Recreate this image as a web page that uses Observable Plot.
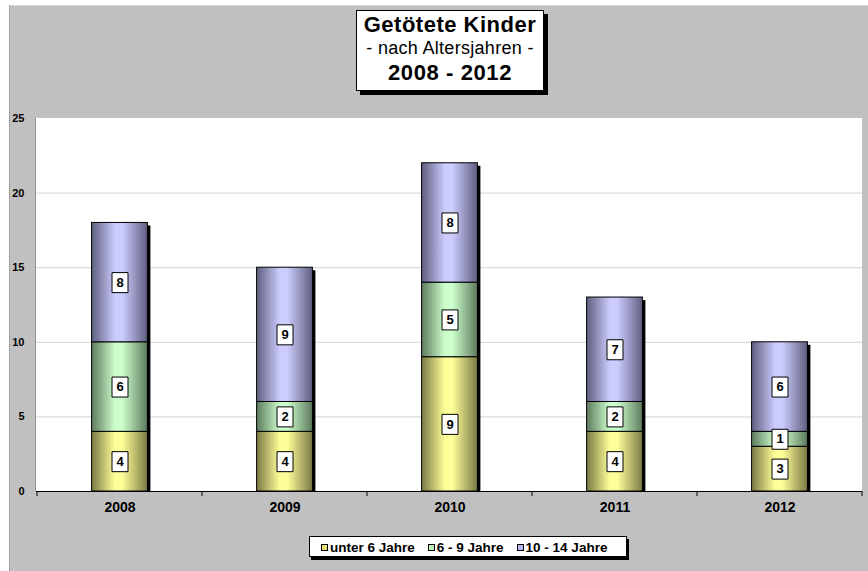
<!DOCTYPE html>
<html><head><meta charset="utf-8">
<script src="https://cdn.jsdelivr.net/npm/d3@7"></script>
<script src="https://cdn.jsdelivr.net/npm/@observablehq/plot@0.6"></script>
<style>
html,body{margin:0;padding:0;background:#fff;}
#wrap{position:relative;width:868px;height:571px;overflow:hidden;font-family:"Liberation Sans",Arial,sans-serif;}
#bg{position:absolute;left:9px;top:5px;right:0;bottom:0;background:#c0c0c0;border-left:1px dotted #808080;border-top:1px solid #d8d8d8;}
#title{position:absolute;left:356px;top:10px;width:186px;height:79px;background:#fff;border:1px solid #000;box-shadow:4px 4px 0 #000;text-align:center;}
#title .t1{font-weight:bold;font-size:22px;letter-spacing:0.5px;margin-top:2px;line-height:24px;}
#title .t2{font-size:18px;letter-spacing:0.3px;line-height:22px;}
#title .t3{font-weight:bold;font-size:22px;letter-spacing:0.6px;line-height:27px;}
#legend{position:absolute;left:309px;top:536px;width:318px;height:21px;background:#fff;border:1px solid #000;box-shadow:2px 3px 0 #000;font-weight:bold;font-size:13.5px;line-height:21px;white-space:nowrap;padding-left:11px;box-sizing:border-box;}
#legend span.sw{display:inline-block;width:5px;height:5px;border:1px solid #000;margin-right:2px;vertical-align:1px;}
#legend span.it{margin-right:13px;}
#chart svg{position:absolute;left:0;top:0;}
</style></head>
<body><div id="wrap">
<div id="bg"></div>
<div id="chart"></div>
<div id="title"><div class="t1">Getötete Kinder</div><div class="t2">- nach Altersjahren -</div><div class="t3">2008 - 2012</div></div>
<div id="legend"></div>
</div>
<script>
const years = ["2008","2009","2010","2011","2012"];
const seriesNames = ["unter 6 Jahre","6 - 9 Jahre","10 - 14 Jahre"];
const under6 = [4,4,9,4,3];
const age6to9 = [6,2,5,2,1];
const age10to14 = [8,9,8,7,6];
const yTicks = [0,5,10,15,20,25];

const seriesValues = [under6, age6to9, age10to14];
const lightColors = ["#ffff99","#ccffcc","#ccccff"];
const darkColors = ["#7a7a45","#5e7a5e","#5f5f80"];
const swatchColors = ["#e8e070","#c0f0c0","#b8b8f0"];
const gradIds = ["gYellow","gGreen","gPurple"];

const rows = [];
years.forEach((yr,i)=>{
  let acc = 0;
  seriesNames.forEach((s,j)=>{
    const v = seriesValues[j][i];
    rows.push({year:yr, series:s, value:v, lo:acc, hi:acc+v, mid:acc+v/2, gi:j});
    acc += v;
  });
});
const totals = years.map((yr,i)=>({year:yr, total: under6[i]+age6to9[i]+age10to14[i]}));

const ns = "http://www.w3.org/2000/svg";
function defsMark(index, scales, values, dimensions){
  const g = document.createElementNS(ns,"g");
  const defs = document.createElementNS(ns,"defs");
  gradIds.forEach((id,j)=>{
    const lg = document.createElementNS(ns,"linearGradient");
    lg.setAttribute("id",id); lg.setAttribute("x1","0"); lg.setAttribute("x2","1"); lg.setAttribute("y1","0"); lg.setAttribute("y2","0");
    [[0,darkColors[j]],[0.42,lightColors[j]],[0.55,lightColors[j]],[1,darkColors[j]]].forEach(([o,c])=>{
      const st = document.createElementNS(ns,"stop");
      st.setAttribute("offset",o); st.setAttribute("stop-color",c);
      lg.appendChild(st);
    });
    defs.appendChild(lg);
  });
  g.appendChild(defs);
  const r = document.createElementNS(ns,"rect");
  r.setAttribute("x",dimensions.marginLeft); r.setAttribute("y",dimensions.marginTop);
  r.setAttribute("width",dimensions.width-dimensions.marginLeft-dimensions.marginRight);
  r.setAttribute("height",dimensions.height-dimensions.marginTop-dimensions.marginBottom);
  r.setAttribute("fill","#fff");
  g.appendChild(r);
  return g;
}
function axisDecor(index, scales, values, dimensions){
  const g = document.createElementNS(ns,"g");
  const x = scales.x, bw = x.bandwidth();
  const y0 = scales.y(0);
  const edges = years.map(y=>x(y)).concat([x(years[years.length-1])+bw]);
  edges.forEach(e=>{
    const l = document.createElementNS(ns,"line");
    l.setAttribute("x1",e); l.setAttribute("x2",e); l.setAttribute("y1",y0); l.setAttribute("y2",y0+5);
    l.setAttribute("stroke","#000");
    g.appendChild(l);
  });
  const l2 = document.createElementNS(ns,"line");
  l2.setAttribute("x1",dimensions.marginLeft-0.5); l2.setAttribute("x2",dimensions.marginLeft-0.5);
  l2.setAttribute("y1",dimensions.marginTop); l2.setAttribute("y2",y0);
  l2.setAttribute("stroke","#909090");
  g.appendChild(l2);
  return g;
}
const labelBox = {draw(context, size){ context.rect(-8,-10,16,20); }};

const inset = 54.6;
const chart = Plot.plot({
  width: 868, height: 571,
  marginLeft: 36, marginRight: 6, marginTop: 118, marginBottom: 80,
  style: {fontFamily: '"Liberation Sans", Arial, sans-serif', background: "transparent"},
  x: {domain: years, padding: 0, label: null},
  y: {domain: [0,25], label: null},
  symbol: {type: "identity"},
  marks: [
    defsMark,
    Plot.ruleY([5,10,15,20], {stroke: "#d4d4d4"}),
    Plot.barY(totals, {x: "year", y1: 0, y2: "total", fill: "#000", insetLeft: inset, insetRight: inset, dx: 3, dy: 3, insetBottom: 3}),
    Plot.barY(rows, {x: "year", y1: "lo", y2: "hi", fill: d => "url(#" + gradIds[d.gi] + ")", stroke: "#000", strokeWidth: 1, insetLeft: inset, insetRight: inset}),
    Plot.ruleY([0], {stroke: "#000"}),
    axisDecor,
    Plot.axisY({ticks: yTicks, tickSize: 0, tickPadding: 12, fontWeight: "bold", fontSize: 11, label: null}),
    Plot.axisX({tickSize: 0, tickPadding: 11, fontWeight: "bold", fontSize: 14, label: null}),
    Plot.dot(rows, {x: "year", y: "mid", symbol: labelBox, r: 8, fill: "#fff", stroke: "#000", strokeWidth: 1}),
    Plot.text(rows, {x: "year", y: "mid", text: d => String(d.value), fontWeight: "bold", fontSize: 13, fill: "#000"})
  ]
});
document.getElementById("chart").appendChild(chart);

const legend = document.getElementById("legend");
seriesNames.forEach((s,j)=>{
  const it = document.createElement("span"); it.className = "it";
  const sw = document.createElement("span"); sw.className = "sw"; sw.style.background = swatchColors[j];
  it.appendChild(sw); it.appendChild(document.createTextNode(s));
  legend.appendChild(it);
});
</script>
</body></html>
